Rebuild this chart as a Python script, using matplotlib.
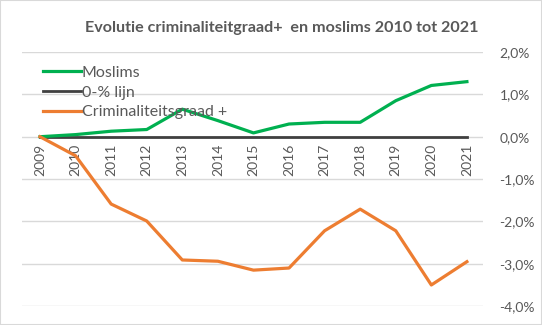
import matplotlib
matplotlib.use("Agg")
import matplotlib.pyplot as plt
from matplotlib.ticker import FuncFormatter
from matplotlib.patches import Rectangle

plt.rcParams['font.family'] = ['Lato', 'DejaVu Sans']

years = [2009, 2010, 2011, 2012, 2013, 2014, 2015, 2016, 2017, 2018, 2019, 2020, 2021]
moslims = [0.0, 0.05, 0.13, 0.17, 0.65, 0.38, 0.09, 0.30, 0.34, 0.34, 0.85, 1.21, 1.30]
nul_lijn = [0.0] * len(years)
criminaliteit = [0.0, -0.45, -1.59, -1.99, -2.91, -2.94, -3.15, -3.10, -2.22, -1.71, -2.22, -3.50, -2.95]

grey = '#595959'

fig = plt.figure(figsize=(5.42, 3.25), dpi=100)
ax = fig.add_axes([0.041, 0.058, 0.85, 0.782])

ax.plot(years, moslims, color='#00B050', lw=2.3, label='Moslims', zorder=3)
ax.plot(years, nul_lijn, color='#404040', lw=2.0, label='0-% lijn', zorder=2)
ax.plot(years, criminaliteit, color='#ED7D31', lw=2.3, label='Criminaliteitsgraad +', zorder=3)

ax.set_xlim(2008.5, 2021.45)
ax.set_ylim(-4, 2)
ax.set_yticks([-4, -3, -2, -1, 0, 1, 2])
ax.yaxis.set_major_formatter(FuncFormatter(lambda v, p: f'{v:.1f}%'.replace('.', ',')))
ax.yaxis.tick_right()
ax.grid(axis='y', color='#d9d9d9', lw=1)
ax.set_axisbelow(True)

ax.set_xticks(years)
ax.spines['bottom'].set_position(('data', 0))
for s in ax.spines.values():
    s.set_visible(False)
ax.tick_params(axis='both', length=0, colors=grey, labelsize=10)
ax.tick_params(axis='x', pad=5, labelrotation=90)
ax.tick_params(axis='y', pad=12)

ax.legend(loc='upper left', bbox_to_anchor=(0.02, 0.99), frameon=False, fontsize=11.5,
          labelcolor=grey, handlelength=2.4, handletextpad=0.05, labelspacing=0.35,
          borderaxespad=0.3)

fig.text(0.52, 0.915, 'Evolutie criminaliteitgraad+  en moslims 2010 tot 2021',
         ha='center', va='center', fontsize=11.6, fontweight='bold', color=grey)

fig.patches.append(Rectangle((0, 0), 1, 1, transform=fig.transFigure, fill=False,
                             edgecolor='#d9d9d9', lw=1.5))

fig.savefig('out.png', dpi=100)
